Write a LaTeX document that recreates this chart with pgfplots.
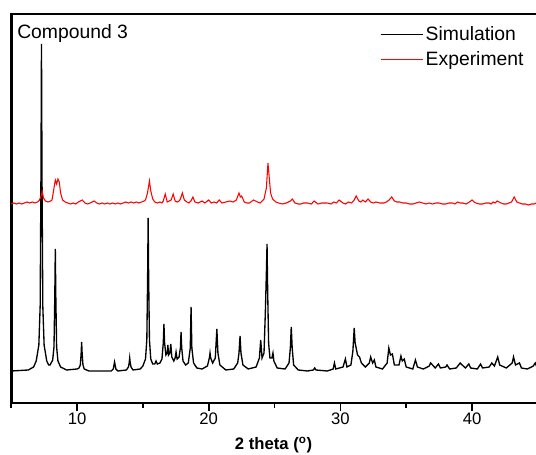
\documentclass[border=0pt]{standalone}
\usepackage{fontspec}
\setmainfont{Liberation Sans}
\usepackage{pgfplots}
\pgfplotsset{compat=1.18}
\begin{document}
\begin{tikzpicture}
\begin{axis}[
 scale only axis, width=396pt, height=291.75pt,
 at={(0,0)}, anchor=south west,
 xmin=5, xmax=45.1, ymin=0, ymax=389,
 axis line style={line width=2.2pt},
 xtick={10,20,30,40}, minor xtick={5,15,25,35,45},
 xtick pos=left, ytick=\empty,
 tick align=outside, major tick length=6pt, minor tick length=3.75pt,
 every tick/.style={black, line width=1.2pt},
 /pgf/number format/assume math mode=true,
 xticklabel style={font=\fontsize{12.5}{14}\selectfont, inner sep=1pt},
 xlabel={\textbf{2 theta (\textsuperscript{o})}},
 xlabel style={font=\fontsize{12.5}{14}\selectfont, at={(axis description cs:0.497,0)}, anchor=base, yshift=-34.5pt},
 legend style={at={(0.698,0.976)}, anchor=north west, draw=none, fill=none, inner sep=0pt,
   font=\fontsize{14.5}{16}\selectfont, row sep=3pt},
 legend cell align=left,
 legend image code/.code={\draw[#1, line width=0.8pt] (0pt,0pt) -- (31.5pt,0pt);},
]
\addplot[black, line width=1pt] coordinates {
(5,32) (6.3,33) (6.7,36) (6.9,42) (7.1,58) (7.2,97) (7.26,228) (7.3,359) (7.34,228) (7.4,97) (7.5,58) (7.7,42)
(7.85,38) (7.95,38) (8.15,43) (8.25,56) (8.31,105) (8.35,154) (8.39,105) (8.45,56) (8.55,42) (8.75,36)
(9.2,33) (10.0,34) (10.15,35) (10.25,38) (10.31,49) (10.35,61) (10.39,49) (10.45,38) (10.55,34) (10.9,32)
(12.6,32) (12.75,34) (12.85,41) (12.95,34) (13.1,32)
(13.75,33) (13.9,36) (13.96,40) (14.0,45) (14.04,40) (14.1,36) (14.25,33)
(14.8,34) (15.0,37) (15.2,44) (15.3,63) (15.36,124) (15.4,185) (15.44,124) (15.5,63) (15.6,44) (15.75,39)
(15.9,39) (16.0,42) (16.1,39) (16.3,40) (16.45,44) (16.55,60) (16.6,79) (16.65,60) (16.75,48)
(16.85,50) (16.9,58) (16.95,48) (17.05,50) (17.12,59) (17.2,46) (17.35,42)
(17.45,45) (17.52,51) (17.6,44) (17.75,46) (17.85,55) (17.9,71) (17.95,55) (18.05,42) (18.25,38)
(18.45,40) (18.6,55) (18.66,96) (18.72,55) (18.85,40) (19.1,35) (19.5,34) (19.9,37) (20.05,45) (20.1,50) (20.15,45)
(20.3,40) (20.5,45) (20.62,74) (20.7,50) (20.85,38) (21.3,33) (21.9,34) (22.2,40) (22.3,50) (22.38,67) (22.45,50) (22.6,38)
(23.0,34) (23.6,36) (23.85,45) (23.95,63) (24.05,45) (24.2,50) (24.3,90) (24.38,130) (24.43,159) (24.48,110) (24.55,60) (24.65,45)
(24.8,45) (24.88,50) (24.95,42) (25.2,35) (25.8,34) (26.1,40) (26.2,55) (26.27,76) (26.34,55) (26.45,38) (26.8,33)
(27.5,32) (27.95,33) (28.05,35) (28.15,33) (29.0,32) (29.45,34) (29.55,40) (29.65,34) (30.2,36) (30.38,44) (30.5,36)
(30.8,38) (30.95,52) (31.05,75) (31.12,60) (31.2,55) (31.3,48) (31.45,46) (31.6,40) (31.9,36) (32.2,40) (32.3,46) (32.45,40)
(32.58,43) (32.7,36) (33.2,34) (33.55,40) (33.68,55) (33.8,48) (33.95,49) (34.1,38) (34.45,38) (34.6,47) (34.7,42) (34.85,44)
(35.0,36) (35.5,34) (35.7,43) (35.85,36) (36.3,34) (36.75,37) (36.85,40) (37.0,38) (37.2,35) (37.45,39) (37.6,35)
(38.0,36) (38.1,38) (38.3,34) (38.8,35) (39.1,40) (39.25,38) (39.5,35) (39.75,39) (39.9,35) (40.4,34) (40.65,39) (40.8,35)
(41.3,36) (41.5,40) (41.7,37) (41.95,46) (42.1,38) (42.6,35) (43.05,40) (43.15,46) (43.3,38) (43.6,40) (43.75,35)
(44.2,34) (44.65,37) (44.8,40) (44.95,35) (45.1,34)
};
\addlegendentry{Simulation}
\addplot[red, line width=0.8pt] coordinates {
(5,199) (5.2,200) (5.4,199) (5.6,200) (5.8,199) (6.0,200) (6.2,201) (6.4,200) (6.6,201) (6.8,200) (7.0,201) (7.15,203)
(7.3,208) (7.35,212) (7.45,205) (7.6,202) (7.8,201) (8.0,202) (8.1,203) (8.25,215) (8.35,223) (8.45,219) (8.55,224) (8.65,221)
(8.75,210) (8.9,203) (9.1,201) (9.3,200) (9.5,199) (9.7,200) (9.9,199) (10.1,201) (10.4,203) (10.6,200) (10.8,199)
(11.0,200) (11.3,202) (11.5,200) (11.7,199) (11.9,200) (12.1,199) (12.3,200) (12.5,199) (12.7,200) (12.9,199) (13.1,200)
(13.3,199) (13.5,200) (13.7,201) (13.9,200) (14.1,201) (14.3,200) (14.5,201) (14.7,200) (14.9,201) (15.1,202) (15.2,203)
(15.35,210) (15.5,222) (15.6,212) (15.75,204) (15.9,201) (16.1,200) (16.3,201) (16.45,200) (16.55,202) (16.7,209) (16.85,201)
(17.0,202) (17.15,203) (17.3,209) (17.45,202) (17.6,201) (17.75,202) (17.85,204) (18.0,210) (18.15,203) (18.35,201) (18.5,200)
(18.65,202) (18.8,206) (18.95,201) (19.2,200) (19.5,202) (19.7,200) (20.0,203) (20.2,200) (20.4,201) (20.6,200) (20.8,203)
(21.0,200) (21.3,201) (21.6,202) (21.85,201) (22.1,203) (22.3,210) (22.4,206) (22.5,207) (22.7,201) (22.9,200) (23.1,200)
(23.4,203) (23.7,201) (23.9,200) (24.2,204) (24.38,215) (24.5,240) (24.6,225) (24.7,210) (24.85,204) (25.1,201) (25.3,200)
(25.6,199) (25.9,200) (26.2,202) (26.35,204) (26.55,200) (26.8,199) (27.0,199) (27.2,200) (27.5,200) (27.8,199) (28.0,202)
(28.3,199) (28.6,200) (29.0,200) (29.3,199) (29.5,201) (29.7,200) (29.9,203) (30.2,200) (30.4,199) (30.6,201) (30.85,200)
(31.05,203) (31.2,207) (31.4,202) (31.55,201) (31.7,203) (31.9,201) (32.1,204) (32.3,201) (32.5,200) (32.7,201) (33.0,200)
(33.3,200) (33.5,201) (33.7,203) (33.9,206) (34.1,202) (34.3,201) (34.5,201) (34.75,200) (35.0,200) (35.25,199) (35.5,199)
(35.75,200) (36.0,201) (36.25,200) (36.5,199) (36.75,200) (37.0,199) (37.25,200) (37.5,200) (37.75,199) (38.0,199) (38.25,200)
(38.5,200) (38.7,199) (38.9,201) (39.1,200) (39.3,200) (39.55,199) (39.8,201) (40.0,203) (40.15,201) (40.3,200) (40.55,199)
(40.8,199) (41.05,200) (41.3,200) (41.45,199) (41.6,201) (41.75,200) (41.9,202) (42.05,201) (42.2,200) (42.4,199) (42.6,199)
(42.8,200) (43.0,201) (43.2,206) (43.4,201) (43.6,200) (43.8,199) (44.05,199) (44.3,198) (44.5,199) (44.7,199) (44.9,200) (45.1,200)
};
\addlegendentry{Experiment}
\node[anchor=base west, font=\fontsize{14.5}{16.8}\selectfont, inner sep=0pt] at (rel axis cs:0.011,0.936) {Compound 3};
\end{axis}
\pgfresetboundingbox
\path[use as bounding box] (-8.4pt,-38.25pt) rectangle (393.6pt,302.25pt);
\end{tikzpicture}
\end{document}
